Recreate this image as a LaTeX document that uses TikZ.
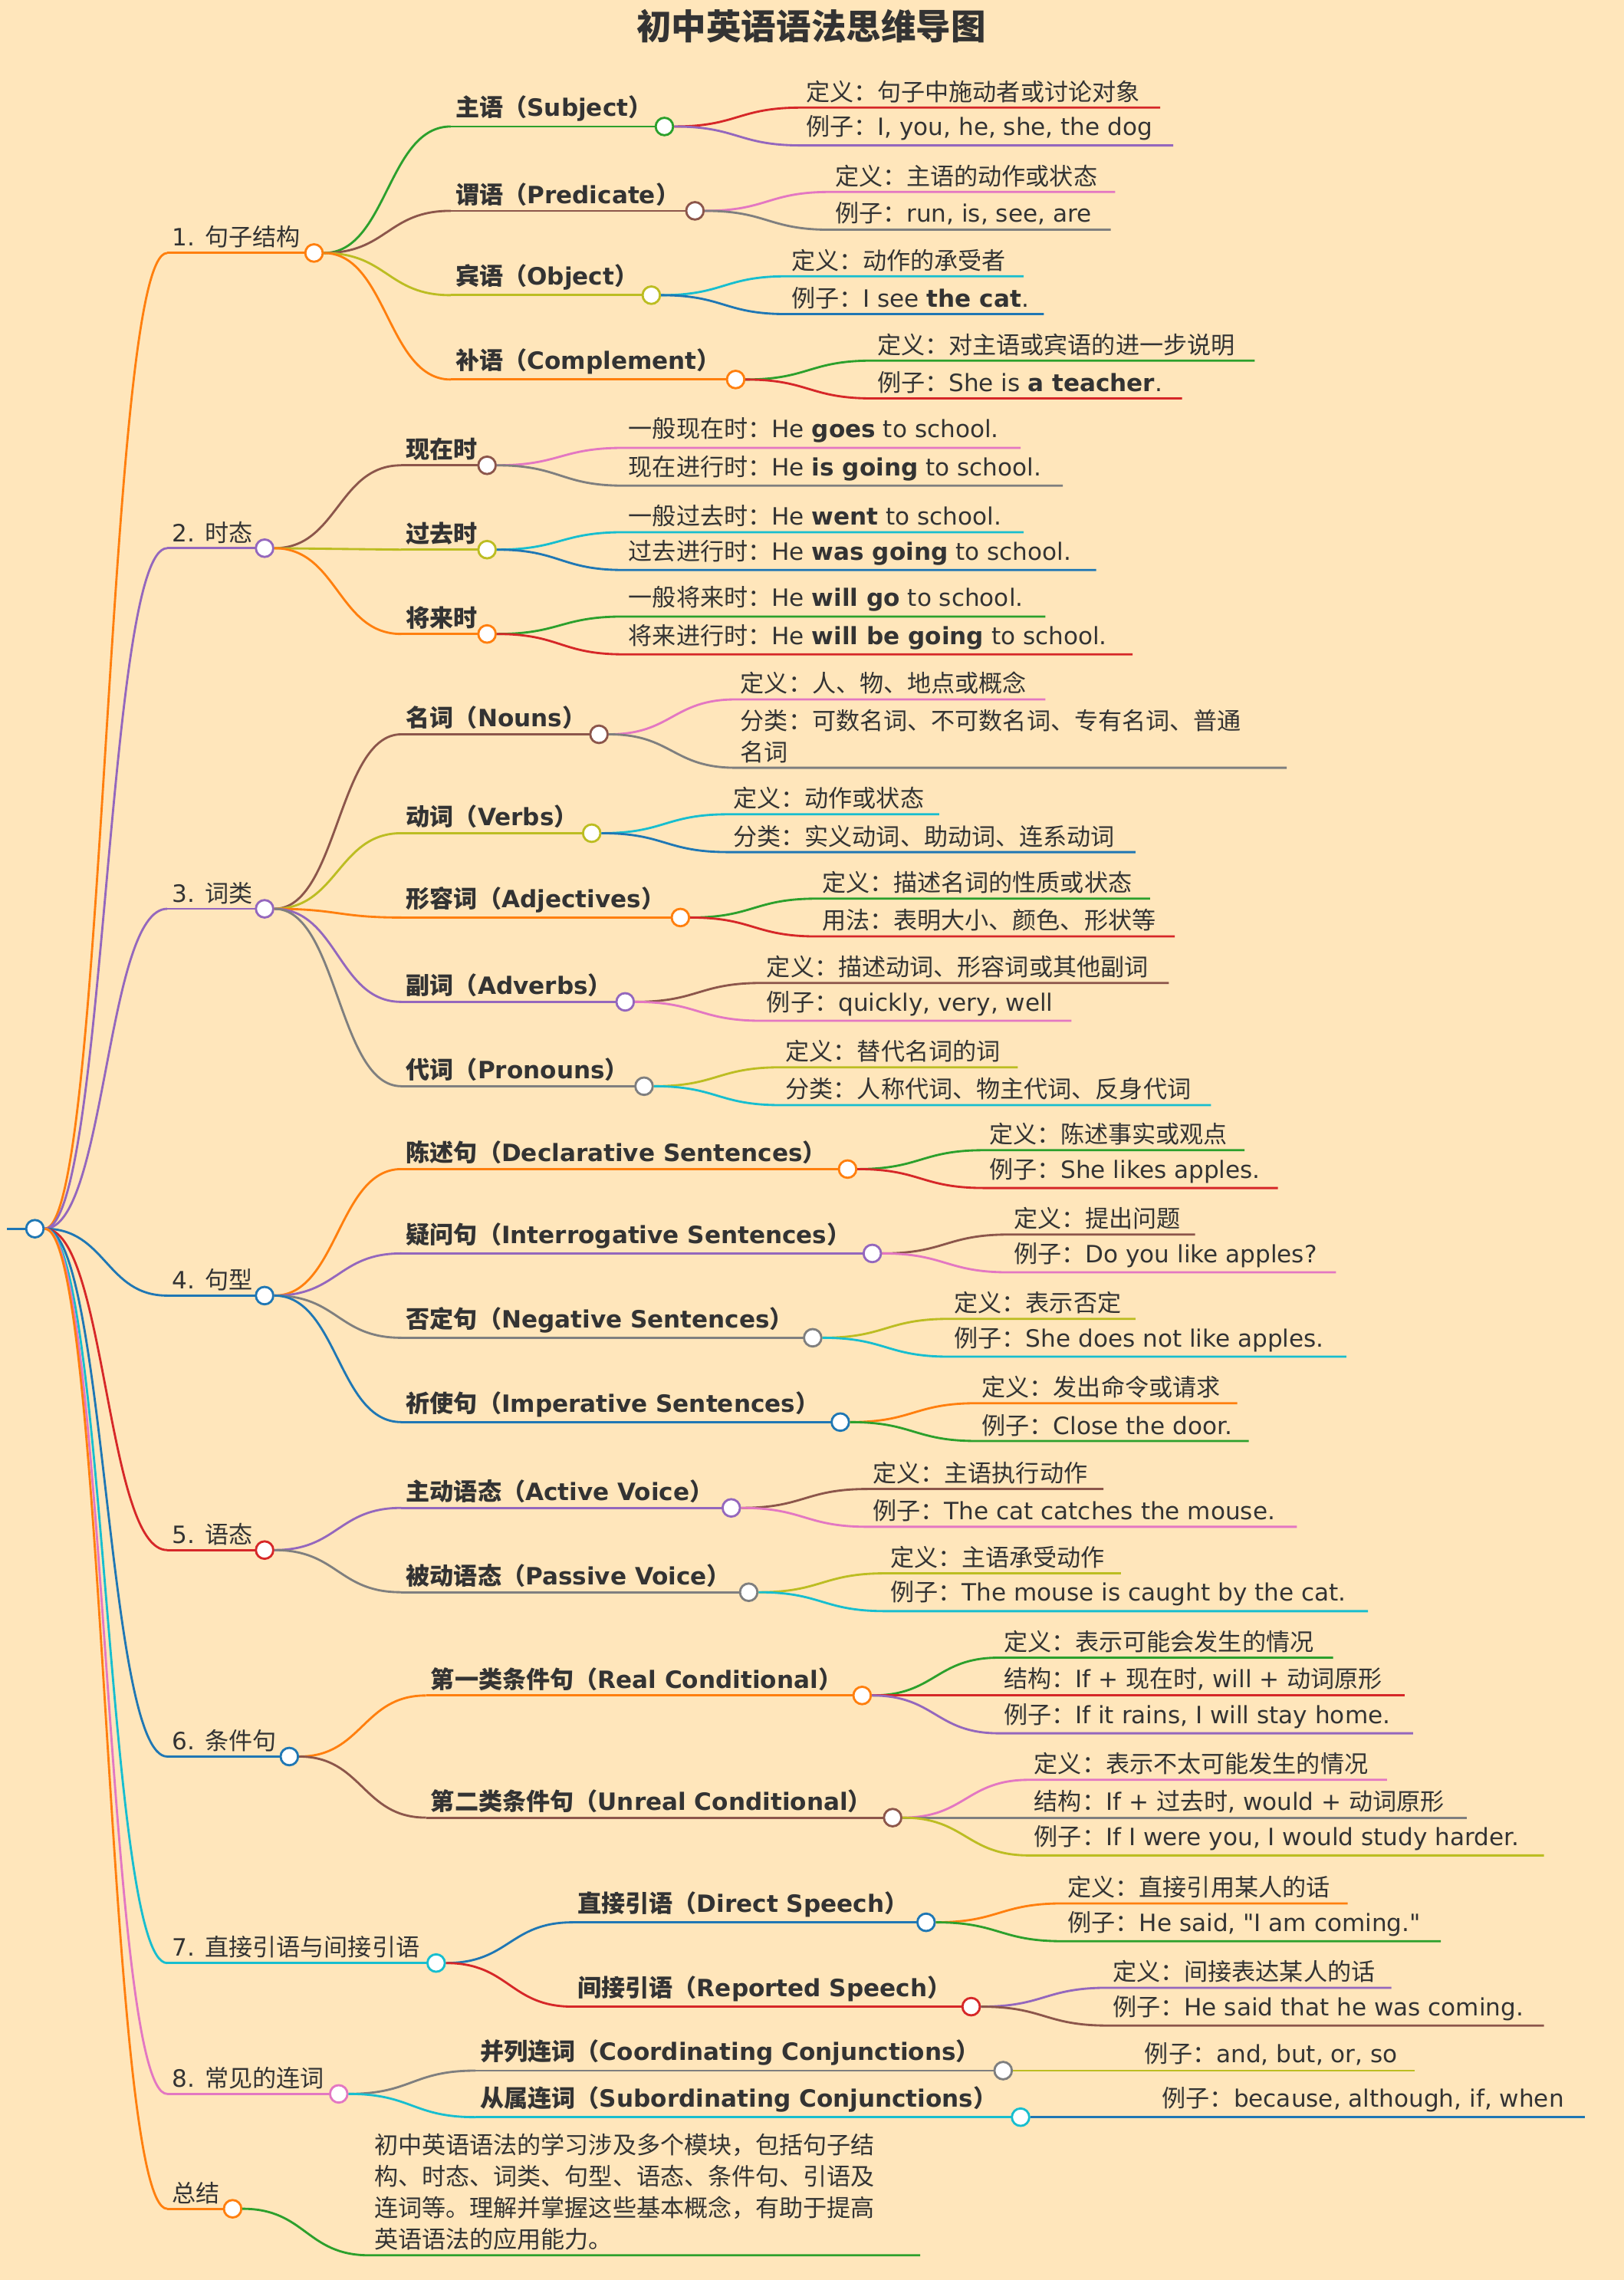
\documentclass[tikz,border=0pt]{standalone}
\usepackage{fontspec}
\setmainfont{DejaVu Sans}
\newfontfamily\cjkfont{Noto Sans CJK SC}
\newfontfamily\latfont{DejaVu Sans}
\XeTeXinterchartokenstate=1
\newXeTeXintercharclass\cjkclass
\count255="4E00 \loop \XeTeXcharclass\count255=\cjkclass \advance\count255 1 \ifnum\count255<"A000 \repeat
\count255="3000 \loop \XeTeXcharclass\count255=\cjkclass \advance\count255 1 \ifnum\count255<"3040 \repeat
\count255="FF00 \loop \XeTeXcharclass\count255=\cjkclass \advance\count255 1 \ifnum\count255<"FF60 \repeat
\XeTeXinterchartoks 0 \cjkclass = {\cjkfont}
\XeTeXinterchartoks 4095 \cjkclass = {\cjkfont}
\XeTeXinterchartoks \cjkclass 0 = {\latfont}
\usetikzlibrary{calc}
\definecolor{bg}{HTML}{FFE6BB}
\definecolor{cO}{HTML}{FF7F0E}\definecolor{cG}{HTML}{2CA02C}\definecolor{cR}{HTML}{D62728}
\definecolor{cP}{HTML}{9467BD}\definecolor{cB}{HTML}{8C564B}\definecolor{cK}{HTML}{E377C2}
\definecolor{cY}{HTML}{7F7F7F}\definecolor{cL}{HTML}{BCBD22}\definecolor{cC}{HTML}{17BECF}
\definecolor{cU}{HTML}{1F77B4}\definecolor{tx}{HTML}{333333}
\tikzset{conn/.style={line width=0.75pt},
 dot/.style={circle,draw,fill=white,line width=0.75pt,minimum size=6pt,inner sep=0pt},
 lab/.style={anchor=south west,inner sep=1.5pt,text=tx,font=\fontsize{8.2}{10.8}\selectfont,align=left},
 blab/.style={lab,font=\fontsize{8.2}{10.8}\selectfont\bfseries}}
\newcommand\mbn[8]{%
 \coordinate (#7s) at (#2,#3);
 \draw[#5,conn] let \p1=(#1.east),\p2=(#7s) in (\p1) .. controls (\x1/2+\x2/2,\y1) and (\x1/2+\x2/2,\y2) .. (\p2);
 \draw[#5,conn] (#7s) -- (#4,#3);
 \node[#8] (#7t) at (#2,#3) {#6};
 \node[dot,draw=#5] (#7) at (#4,#3) {};}
\newcommand\mlf[6]{%
 \coordinate (tmp) at (#2,#3);
 \draw[#5,conn] let \p1=(#1.east),\p2=(tmp) in (\p1) .. controls (\x1/2+\x2/2,\y1) and (\x1/2+\x2/2,\y2) .. (\p2) -- (#4,#3);
 \node[lab] at (#2,#3) {#6};}
\begin{document}
\begin{tikzpicture}[x=0.5pt,y=-0.5pt]
\fill[bg] (0,0) rectangle (1117,1568);
\useasboundingbox (0,0) rectangle (1117,1568);
\node[text=tx,font=\fontsize{12}{14}\selectfont\bfseries] (title) at (558,18) {初中英语语法思维导图};
\draw[cU,conn] (5,845) -- (24,845);
\node[dot,draw=cU] (root) at (24,845) {};
% 1
\mbn{root}{115}{174}{216}{cO}{1. 句子结构}{a}{lab}
\mbn{a}{310}{87}{457}{cG}{主语（Subject）}{a1}{blab}
\mlf{a1}{551}{74}{798}{cR}{定义：句子中施动者或讨论对象}
\mlf{a1}{551}{100}{807}{cP}{例子：I, you, he, she, the dog}
\mbn{a}{310}{145}{478}{cB}{谓语（Predicate）}{a2}{blab}
\mlf{a2}{571}{132}{767}{cK}{定义：主语的动作或状态}
\mlf{a2}{571}{158}{764}{cY}{例子：run, is, see, are}
\mbn{a}{310}{203}{448}{cL}{宾语（Object）}{a3}{blab}
\mlf{a3}{541}{190}{704}{cC}{定义：动作的承受者}
\mlf{a3}{541}{216}{718}{cU}{例子：I see \textbf{the cat}.}
\mbn{a}{310}{261}{506}{cO}{补语（Complement）}{a4}{blab}
\mlf{a4}{600}{248}{863}{cG}{定义：对主语或宾语的进一步说明}
\mlf{a4}{600}{274}{813}{cR}{例子：She is \textbf{a teacher}.}
% 2
\mbn{root}{115}{377}{182}{cP}{2. 时态}{b}{lab}
\mbn{b}{276}{320}{335}{cB}{现在时}{b1}{blab}
\mlf{b1}{429}{308}{702}{cK}{一般现在时：He \textbf{goes} to school.}
\mlf{b1}{429}{334}{731}{cY}{现在进行时：He \textbf{is going} to school.}
\mbn{b}{276}{378}{335}{cL}{过去时}{b2}{blab}
\mlf{b2}{429}{366}{704}{cC}{一般过去时：He \textbf{went} to school.}
\mlf{b2}{429}{392}{754}{cU}{过去进行时：He \textbf{was going} to school.}
\mbn{b}{276}{436}{335}{cO}{将来时}{b3}{blab}
\mlf{b3}{429}{424}{719}{cG}{一般将来时：He \textbf{will go} to school.}
\mlf{b3}{429}{450}{779}{cR}{将来进行时：He \textbf{will be going} to school.}
% 3
\mbn{root}{115}{625}{182}{cP}{3. 词类}{c}{lab}
\mbn{c}{276}{505}{412}{cB}{名词（Nouns）}{c1}{blab}
\mlf{c1}{506}{481}{719}{cK}{定义：人、物、地点或概念}
\mlf{c1}{506}{528}{885}{cY}{分类：可数名词、不可数名词、专有名词、普通\\名词}
\mbn{c}{276}{573}{407}{cL}{动词（Verbs）}{c2}{blab}
\mlf{c2}{501}{560}{646}{cC}{定义：动作或状态}
\mlf{c2}{501}{586}{781}{cU}{分类：实义动词、助动词、连系动词}
\mbn{c}{276}{631}{468}{cO}{形容词（Adjectives）}{c3}{blab}
\mlf{c3}{562}{618}{791}{cG}{定义：描述名词的性质或状态}
\mlf{c3}{562}{644}{808}{cR}{用法：表明大小、颜色、形状等}
\mbn{c}{276}{689}{430}{cP}{副词（Adverbs）}{c4}{blab}
\mlf{c4}{524}{676}{804}{cB}{定义：描述动词、形容词或其他副词}
\mlf{c4}{524}{702}{737}{cK}{例子：quickly, very, well}
\mbn{c}{276}{747}{443}{cY}{代词（Pronouns）}{c5}{blab}
\mlf{c5}{537}{734}{700}{cL}{定义：替代名词的词}
\mlf{c5}{537}{760}{833}{cC}{分类：人称代词、物主代词、反身代词}
% 4
\mbn{root}{115}{891}{182}{cU}{4. 句型}{d}{lab}
\mbn{d}{276}{804}{583}{cO}{陈述句（Declarative Sentences）}{d1}{blab}
\mlf{d1}{677}{791}{856}{cG}{定义：陈述事实或观点}
\mlf{d1}{677}{817}{879}{cR}{例子：She likes apples.}
\mbn{d}{276}{862}{600}{cP}{疑问句（Interrogative Sentences）}{d2}{blab}
\mlf{d2}{694}{849}{822}{cB}{定义：提出问题}
\mlf{d2}{694}{875}{919}{cK}{例子：Do you like apples?}
\mbn{d}{276}{920}{559}{cY}{否定句（Negative Sentences）}{d3}{blab}
\mlf{d3}{653}{907}{781}{cL}{定义：表示否定}
\mlf{d3}{653}{933}{926}{cC}{例子：She does not like apples.}
\mbn{d}{276}{978}{578}{cU}{祈使句（Imperative Sentences）}{d4}{blab}
\mlf{d4}{672}{965}{851}{cO}{定义：发出命令或请求}
\mlf{d4}{672}{991}{859}{cG}{例子：Close the door.}
% 5
\mbn{root}{115}{1066}{182}{cR}{5. 语态}{e}{lab}
\mbn{e}{276}{1037}{503}{cP}{主动语态（Active Voice）}{e1}{blab}
\mlf{e1}{597}{1024}{759}{cB}{定义：主语执行动作}
\mlf{e1}{597}{1050}{892}{cK}{例子：The cat catches the mouse.}
\mbn{e}{276}{1095}{515}{cY}{被动语态（Passive Voice）}{e2}{blab}
\mlf{e2}{609}{1082}{771}{cL}{定义：主语承受动作}
\mlf{e2}{609}{1108}{941}{cC}{例子：The mouse is caught by the cat.}
% 6
\mbn{root}{115}{1208}{199}{cU}{6. 条件句}{f}{lab}
\mbn{f}{293}{1166}{593}{cO}{第一类条件句（Real Conditional）}{f1}{blab}
\mlf{f1}{687}{1140}{917}{cG}{定义：表示可能会发生的情况}
\mlf{f1}{687}{1166}{966}{cR}{结构：If + 现在时, will + 动词原形}
\mlf{f1}{687}{1192}{972}{cP}{例子：If it rains, I will stay home.}
\mbn{f}{293}{1250}{614}{cB}{第二类条件句（Unreal Conditional）}{f2}{blab}
\mlf{f2}{708}{1224}{954}{cK}{定义：表示不太可能发生的情况}
\mlf{f2}{708}{1250}{1009}{cY}{结构：If + 过去时, would + 动词原形}
\mlf{f2}{708}{1276}{1062}{cL}{例子：If I were you, I would study harder.}
% 7
\mbn{root}{115}{1350}{300}{cC}{7. 直接引语与间接引语}{g}{lab}
\mbn{g}{394}{1322}{637}{cU}{直接引语（Direct Speech）}{g1}{blab}
\mlf{g1}{731}{1309}{927}{cO}{定义：直接引用某人的话}
\mlf{g1}{731}{1335}{991}{cG}{例子：He said, \char"22 I am coming.\char"22}
\mbn{g}{394}{1380}{668}{cR}{间接引语（Reported Speech）}{g2}{blab}
\mlf{g2}{762}{1367}{957}{cP}{定义：间接表达某人的话}
\mlf{g2}{762}{1393}{1062}{cB}{例子：He said that he was coming.}
% 8
\mbn{root}{115}{1440}{233}{cK}{8. 常见的连词}{h}{lab}
\mbn{h}{327}{1424}{690}{cY}{并列连词（Coordinating Conjunctions）}{h1}{blab}
\mlf{h1}{784}{1424}{973}{cL}{例子：and, but, or, so}
\mbn{h}{327}{1456}{702}{cC}{从属连词（Subordinating Conjunctions）}{h2}{blab}
\mlf{h2}{796}{1456}{1090}{cU}{例子：because, although, if, when}
% summary
\mbn{root}{115}{1519}{160}{cO}{总结}{s}{lab}
\mlf{s}{254}{1551}{633}{cG}{初中英语语法的学习涉及多个模块，包括句子结\\构、时态、词类、句型、语态、条件句、引语及\\连词等。理解并掌握这些基本概念，有助于提高\\英语语法的应用能力。}
\end{tikzpicture}
\end{document}
